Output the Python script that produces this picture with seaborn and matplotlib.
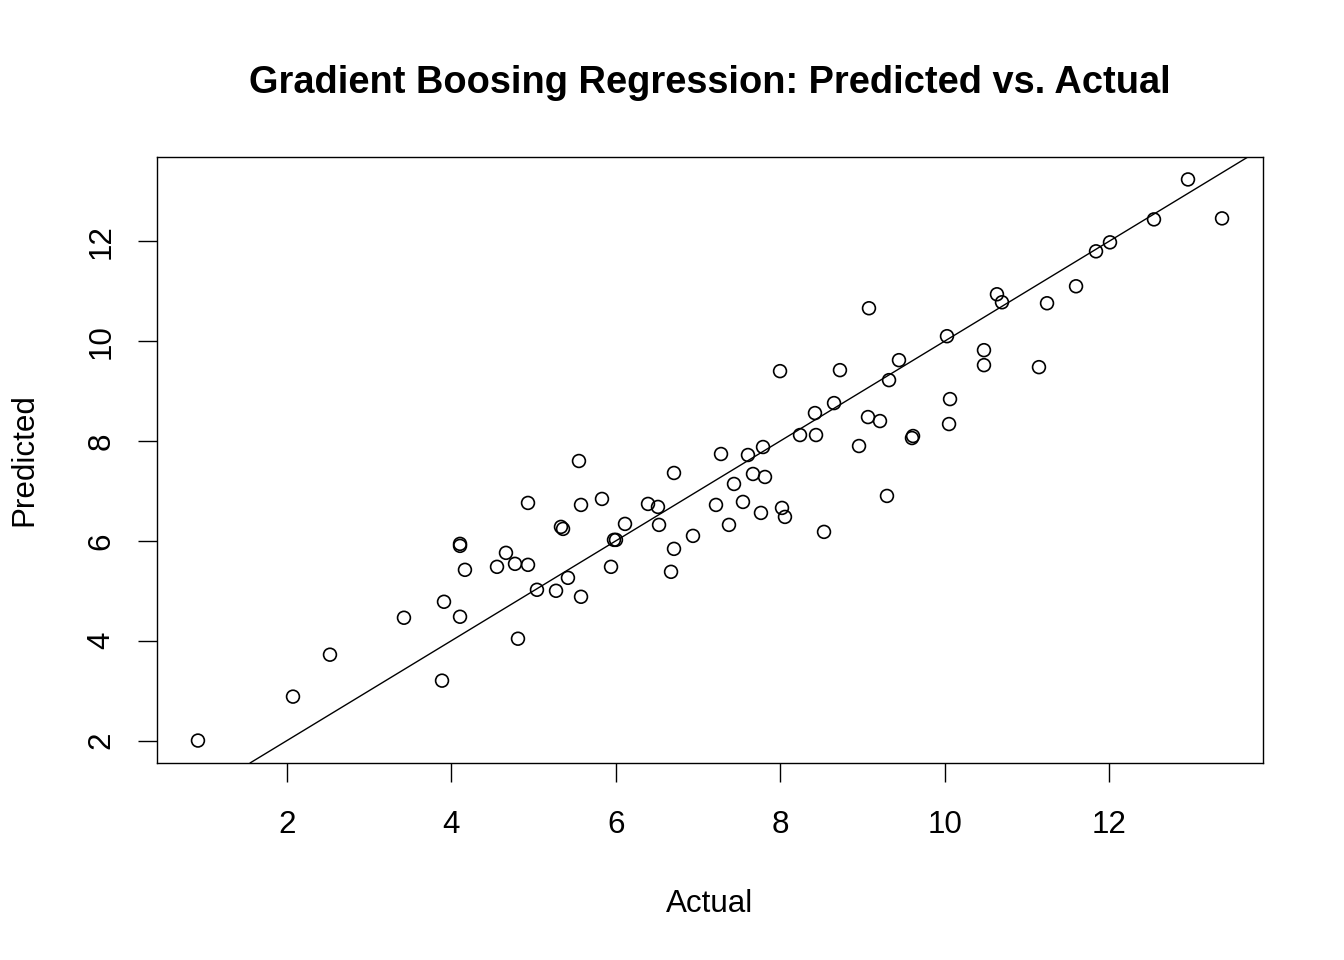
import numpy as np
import pandas as pd
import matplotlib
matplotlib.use("Agg")
import matplotlib.pyplot as plt
import seaborn as sns

# values
actual = [0.917, 2.073, 2.523, 3.423, 3.910, 3.886, 4.105, 4.105, 4.105, 4.165,
          4.555, 4.664, 4.774, 4.932, 4.810, 4.932, 5.041, 5.273, 5.333, 5.358,
          5.418, 5.552, 5.577, 5.577, 5.832, 5.942, 5.978, 6.002, 6.112, 6.392,
          6.513, 6.526, 6.672, 6.708, 6.708, 6.939, 7.219, 7.280, 7.377, 7.438,
          7.547, 7.608, 7.669, 7.766, 7.791, 7.815, 7.998, 8.022, 8.058, 8.241,
          8.423, 8.436, 8.533, 8.655, 8.727, 8.959, 9.068, 9.080, 9.214, 9.299,
          9.324, 9.445, 9.616, 9.603, 10.029, 10.054, 10.066, 10.479, 10.479, 10.637,
          10.698, 11.148, 11.246, 11.599, 11.842, 12.012, 12.547, 12.961, 13.375]
predicted = [2.00, 2.88, 3.72, 4.46, 4.78, 3.20, 5.94, 5.90, 4.48, 5.42,
             5.48, 5.76, 5.54, 5.52, 4.04, 6.76, 5.02, 5.00, 6.28, 6.24,
             5.26, 7.60, 6.72, 4.88, 6.84, 5.48, 6.02, 6.02, 6.34, 6.74,
             6.68, 6.32, 5.38, 7.36, 5.84, 6.10, 6.72, 7.74, 6.32, 7.14,
             6.78, 7.72, 7.34, 6.56, 7.88, 7.28, 9.40, 6.66, 6.48, 8.12,
             8.56, 8.12, 6.18, 8.76, 9.42, 7.90, 8.48, 10.66, 8.40, 6.90,
             9.22, 9.62, 8.10, 8.06, 10.10, 8.34, 8.84, 9.82, 9.52, 10.94,
             10.78, 9.48, 10.76, 11.10, 11.80, 11.98, 12.44, 13.24, 12.46]
tick_vals = [2, 4, 6, 8, 10, 12]

df = pd.DataFrame({"Actual": actual, "Predicted": predicted})

sns.set_style("white")
plt.rcParams["font.family"] = ["Liberation Sans", "DejaVu Sans"]
plt.rcParams["text.color"] = "black"
plt.rcParams["axes.labelcolor"] = "black"

fig = plt.figure(figsize=(13.44, 9.6), dpi=100)
ax = fig.add_axes([157 / 1344, 1 - 763 / 960, 1106 / 1344, 606 / 960])

sns.scatterplot(data=df, x="Actual", y="Predicted", ax=ax, marker="o",
                s=85, facecolor="none", edgecolor="black", linewidth=1.2)

# identity line, like abline(0, 1)
ax.axline((0, 0), slope=1, color="black", lw=1.0)

# R style 4% padding
def r_lim(v):
    lo, hi = min(v), max(v)
    pad = 0.04 * (hi - lo)
    return lo - pad, hi + pad

ax.set_xlim(*r_lim(actual))
ax.set_ylim(*r_lim(predicted))

ax.set_xticks(tick_vals)
ax.set_yticks(tick_vals)
ax.set_yticklabels([str(t) for t in tick_vals], rotation=90, va="center")
ax.tick_params(axis="both", direction="out", length=14, width=1.0,
               labelsize=22.6, color="black", labelcolor="black",
               bottom=True, left=True)
ax.tick_params(axis="x", pad=20)
ax.tick_params(axis="y", pad=15)
for sp in ax.spines.values():
    sp.set_color("black")
    sp.set_linewidth(1.0)

ax.set_xlabel("Actual", fontsize=22.6, color="black")
ax.set_ylabel("Predicted", fontsize=22.6, color="black")
ax.xaxis.set_label_coords(0.5, -0.208)
ax.yaxis.set_label_coords(-0.106, 0.5)

ax.set_title("Gradient Boosing Regression: Predicted vs. Actual",
             fontsize=27.4, fontweight="bold", pad=46, color="black")

fig.savefig("out.png", dpi=100)
